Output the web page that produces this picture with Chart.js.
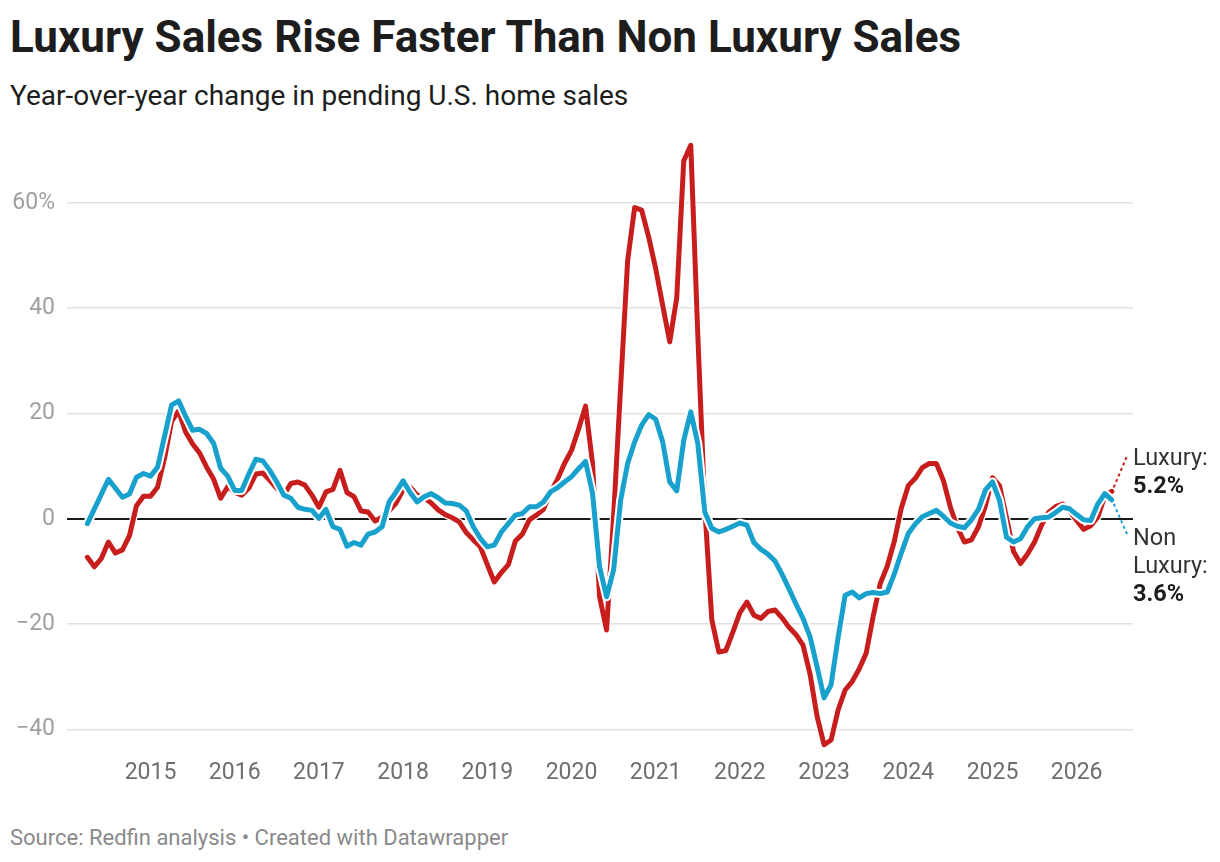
<!DOCTYPE html>
<html lang="en">
<head>
  <meta charset="UTF-8">
  <title>Luxury Sales Rise Faster Than Non Luxury Sales</title>
  <script src="https://cdn.jsdelivr.net/npm/chart.js"></script>
  <style>
    body {
      margin: 0;
      width: 1220px;
      height: 862px;
      background: #fff;
      font-family: Roboto, 'Noto Sans', sans-serif;
      color: #1d1d1d;
      position: relative;
      overflow: hidden;
    }
    .title {
      position: absolute; left: 10px; top: 15px;
      font-size: 44px; line-height: 1; font-weight: 700;
      white-space: nowrap;
    }
    .subtitle {
      position: absolute; left: 10px; top: 82px;
      font-size: 28px; line-height: 1; color: #1d1d1d;
      white-space: nowrap;
    }
    .footer {
      position: absolute; left: 10px; top: 827px;
      font-size: 22px; line-height: 1; color: #8a8a8a;
      white-space: nowrap;
    }
    .chart-box {
      position: absolute; left: 0; top: 98px;
      width: 1220px; height: 712px;
    }
    .end-label {
      position: absolute; left: 1133px;
      font-size: 23.5px; line-height: 28px; color: #333;
      white-space: nowrap;
    }
    .end-label b { color: #1d1d1d; }
  </style>
</head>
<body>
  <div class="title">Luxury Sales Rise Faster Than Non Luxury Sales</div>
  <div class="subtitle">Year-over-year change in pending U.S. home sales</div>

  <div class="chart-box"><canvas id="salesChart" width="1220" height="712"></canvas></div>

  <div class="end-label" style="top:443px">Luxury:<br><b>5.2%</b></div>
  <div class="end-label" style="top:523px">Non<br>Luxury:<br><b>3.6%</b></div>

  <div class="footer">Source: Redfin analysis • Created with Datawrapper</div>

  <script>
    // monthly series, first point = April 2014
    const startYear = 2014;
    const startMonth = 4;

    const luxury = [
      -7.3, -9.1, -7.5, -4.4, -6.5, -5.9, -3.2, 2.5, 4.3, 4.3, 6.0, 11.5,
      18.5, 20.5, 16.5, 14.2, 12.5, 9.8, 7.5, 3.9, 6.1, 5.0, 4.5, 5.8,
      8.5, 8.7, 7.3, 5.8, 4.5, 6.7, 7.0, 6.4, 4.5, 2.2, 5.1, 5.6,
      9.2, 5.0, 4.2, 1.5, 1.3, -0.4, 0.3, 1.5, 3.0, 5.5, 6.0, 4.5,
      4.0, 3.0, 1.7, 0.8, 0.2, -0.6, -2.6, -4.0, -5.3, -8.7, -12.0, -10.2,
      -8.7, -4.2, -2.9, -0.2, 0.7, 1.8, 5.0, 7.5, 10.5, 13.0, 17.0, 21.4,
      10.5, -14.8, -21.1, 0.5, 25.0, 49.0, 59.1, 58.6, 53.5, 47.5, 40.5, 33.6,
      42.0, 68.0, 70.9, 35.0, 2.0, -19.2, -25.3, -25.0, -21.5, -17.8, -15.8, -18.3,
      -18.9, -17.6, -17.3, -18.8, -20.6, -22.0, -24.0, -29.5, -37.5, -42.9, -42.0, -36.3,
      -32.5, -30.9, -28.5, -25.5, -18.5, -12.3, -9.0, -4.3, 2.0, 6.3, 7.7, 9.7,
      10.5, 10.5, 7.3, 2.2, -1.6, -4.4, -4.0, -1.5, 2.5, 7.8, 6.3, 0.2,
      -6.2, -8.5, -6.7, -4.4, -1.2, 1.2, 2.3, 2.8, 1.5, -0.3, -2.0, -1.3,
      0.3, 4.3, 5.2
    ];

    const nonLuxury = [
      -0.9, 1.9, 4.7, 7.5, 5.8, 4.1, 4.7, 7.9, 8.6, 8.1, 9.8, 15.7,
      21.6, 22.4, 19.5, 16.8, 17.0, 16.2, 14.3, 9.6, 8.1, 5.4, 5.4, 8.5,
      11.3, 11.0, 9.2, 7.0, 4.5, 3.9, 2.2, 1.8, 1.6, 0.1, 1.8, -1.5,
      -2.0, -5.2, -4.5, -5.0, -2.9, -2.5, -1.5, 3.2, 5.1, 7.2, 5.0, 3.2,
      4.2, 4.8, 4.0, 3.0, 2.9, 2.6, 1.5, -1.5, -3.7, -5.3, -5.0, -2.5,
      -0.9, 0.7, 1.0, 2.3, 2.3, 3.2, 5.1, 5.9, 7.0, 8.0, 9.5, 10.9,
      4.8, -9.1, -14.8, -9.7, 3.5, 10.5, 14.6, 17.8, 19.8, 18.9, 14.6, 7.0,
      5.3, 14.9, 20.3, 14.3, 1.3, -1.8, -2.5, -2.0, -1.4, -0.8, -1.2, -4.5,
      -5.8, -6.7, -8.0, -10.5, -13.3, -16.2, -18.9, -22.4, -28.1, -34.0, -31.5, -22.5,
      -14.5, -13.9, -15.0, -14.2, -14.0, -14.2, -13.9, -10.5, -6.5, -2.8, -1.0, 0.4,
      1.0, 1.6, 0.5, -0.8, -1.4, -1.7, -0.2, 1.8, 5.5, 7.0, 3.5, -3.5,
      -4.4, -3.8, -1.5, 0.0, 0.2, 0.3, 1.2, 2.2, 1.9, 0.8, -0.2, -0.3,
      2.8, 4.8, 3.6
    ];

    const yearTicks = [2015, 2016, 2017, 2018, 2019, 2020, 2021, 2022, 2023, 2024, 2025, 2026];
    const valueTicks = [-40, -20, 0, 20, 40, 60];

    const RED = '#c71e1d';
    const BLUE = '#18a1cd';

    const toPoints = arr => arr.map((v, i) => ({ x: startYear + (startMonth - 1 + i) / 12, y: v }));

    // dotted leader from the last point to the end labels
    const leaderLines = {
      id: 'leaderLines',
      afterDatasetsDraw(chart) {
        const ctx = chart.ctx;
        const right = chart.chartArea.right;
        const leaders = [
          { ds: 2, color: RED, endY: 456 - 98 },
          { ds: 0, color: BLUE, endY: 534 - 98 }
        ];
        ctx.save();
        ctx.lineWidth = 2;
        ctx.setLineDash([3, 3]);
        leaders.forEach(l => {
          const pts = chart.getDatasetMeta(l.ds).data;
          const p = pts[pts.length - 1];
          ctx.strokeStyle = l.color;
          ctx.beginPath();
          ctx.moveTo(p.x + 2, p.y + (l.endY < p.y ? -4 : 4));
          ctx.lineTo(right - 6, l.endY);
          ctx.stroke();
        });
        ctx.restore();
      }
    };

    new Chart(document.getElementById('salesChart'), {
      type: 'line',
      data: {
        datasets: [
          { data: toPoints(nonLuxury), borderColor: BLUE, borderWidth: 5, order: 0 },
          { data: toPoints(nonLuxury), borderColor: '#ffffff', borderWidth: 9, order: 1 },
          { data: toPoints(luxury), borderColor: RED, borderWidth: 5, order: 2 },
          { data: toPoints(luxury), borderColor: '#ffffff', borderWidth: 7.5, order: 3 }
        ]
      },
      plugins: [leaderLines],
      options: {
        responsive: false,
        animation: false,
        devicePixelRatio: 1,
        layout: { padding: { top: 0, right: 87, bottom: 0, left: 0 } },
        elements: {
          point: { radius: 0, hoverRadius: 0 },
          line: { tension: 0, borderJoinStyle: 'round', borderCapStyle: 'round', fill: false }
        },
        plugins: { legend: { display: false }, tooltip: { enabled: false } },
        scales: {
          x: {
            type: 'linear',
            min: 2014.008,
            max: 2026.669,
            afterFit: s => { s.height = 56.8; },
            afterBuildTicks: s => { s.ticks = yearTicks.map(v => ({ value: v })); },
            grid: { display: false, drawTicks: false },
            border: { display: false },
            ticks: {
              padding: 6,
              color: '#6e6e6e',
              font: { family: 'Roboto', size: 23 },
              maxRotation: 0,
              autoSkip: false,
              callback: v => String(v)
            }
          },
          y: {
            min: -44.5,
            max: 75,
            afterFit: s => { s.width = 67; },
            afterBuildTicks: s => { s.ticks = valueTicks.map(v => ({ value: v })); },
            grid: {
              drawTicks: false,
              color: c => c.tick.value === 0 ? '#1a1a1a' : '#e1e1e1',
              lineWidth: c => c.tick.value === 0 ? 2 : 1.5
            },
            border: { display: false },
            ticks: {
              padding: 12,
              color: '#a0a0a0',
              font: { family: 'Roboto', size: 23 },
              callback: v => v === 60 ? '60%' : (v < 0 ? '\u2212' + Math.abs(v) : String(v))
            }
          }
        }
      }
    });
  </script>
</body>
</html>
